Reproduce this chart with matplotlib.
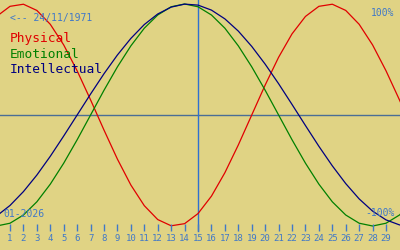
import matplotlib
matplotlib.use("Agg")
from matplotlib import pyplot as plt

# biorhythm values, days 0..31 of 01-2026
days = list(range(0, 32))
physical = [0.888, 0.979, 0.998, 0.942, 0.817, 0.631, 0.398, 0.136, -0.136, -0.398,
            -0.631, -0.817, -0.942, -0.998, -0.979, -0.888, -0.731, -0.520, -0.270, 0.0,
            0.270, 0.520, 0.731, 0.888, 0.979, 0.998, 0.942, 0.817, 0.631, 0.398,
            0.136, -0.136]
emotional = [-1.0, -0.975, -0.901, -0.782, -0.623, -0.434, -0.223, 0.0, 0.223, 0.434,
             0.623, 0.782, 0.901, 0.975, 1.0, 0.975, 0.901, 0.782, 0.623, 0.434,
             0.223, 0.0, -0.223, -0.434, -0.623, -0.782, -0.901, -0.975, -1.0, -0.975,
             -0.901, -0.782]
intellectual = [-0.910, -0.815, -0.690, -0.541, -0.372, -0.189, 0.0, 0.189, 0.372, 0.541,
                0.690, 0.815, 0.910, 0.972, 0.999, 0.990, 0.945, 0.866, 0.756, 0.618,
                0.458, 0.282, 0.095, -0.095, -0.282, -0.458, -0.618, -0.756, -0.866, -0.945,
                -0.990, -0.999]
tick_days = list(range(1, 30))
today = 15
birth_label = "<-- 24/11/1971"
month_label = "01-2026"
series_names = ["Physical", "Emotional", "Intellectual"]

bg = "#E0D384"
blue = "#4078C8"
colors = ["#E00000", "#008000", "#000080"]
mono = "DejaVu Sans Mono"
W, H = 400, 250

fig = plt.figure(figsize=(4, 2.5), dpi=100)
fig.patch.set_facecolor(bg)
ax = fig.add_axes([0, 0, 1, 1])
ax.set_facecolor(bg)
ax.set_axis_off()
ax.set_xlim(0.255, 30.04)
ax.set_ylim(-135 / 111, 115 / 111)

def fx(px):
    return px / W

def fy(py):
    return 1 - py / H

# zero line and "today" marker
ax.axhline(0, color="#4A6E96", lw=1)
ax.plot([today, today], [fy(0), fy(231)], color="#3070D0", lw=1,
        transform=ax.get_xaxis_transform())

# curves
for vals, c in zip([physical, emotional, intellectual], colors):
    ax.plot(days, vals, color=c, lw=0.9)

# day ticks and labels
ax.vlines(tick_days, fy(231), fy(224), color=blue, lw=1,
          transform=ax.get_xaxis_transform())
for d in tick_days:
    ax.text(d, fy(241), str(d), color=blue, fontsize=6.5, family=mono,
            ha="center", va="baseline", transform=ax.get_xaxis_transform())

ax.text(fx(10), fy(21), birth_label, color=blue, fontsize=7, family=mono,
        va="baseline", transform=ax.transAxes)
for name, c, py in zip(series_names, colors, [42, 58, 73]):
    ax.text(fx(10), fy(py), name, color=c, fontsize=9.3, family=mono,
            va="baseline", transform=ax.transAxes)
ax.text(fx(394), fy(16), "100%", color=blue, fontsize=7, family=mono,
        ha="right", va="baseline", transform=ax.transAxes)
ax.text(fx(395), fy(216), "-100%", color=blue, fontsize=7, family=mono,
        ha="right", va="baseline", transform=ax.transAxes)
ax.text(fx(3), fy(217), month_label, color=blue, fontsize=7, family=mono,
        va="baseline", transform=ax.transAxes)

fig.savefig("out.png", dpi=100, facecolor=bg)
